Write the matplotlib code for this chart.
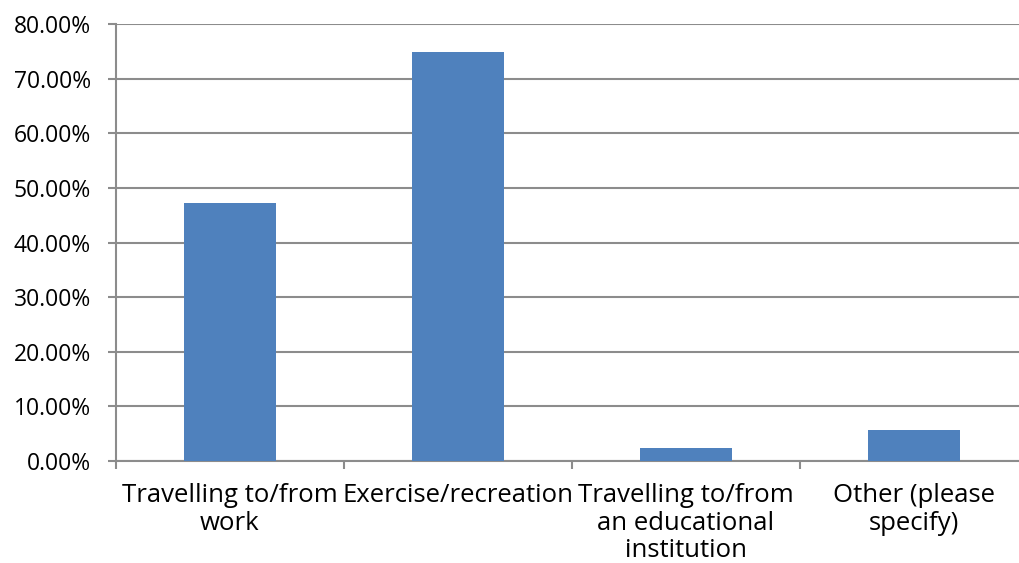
import matplotlib.pyplot as plt
from matplotlib.ticker import FuncFormatter, MultipleLocator
import numpy as np

categories = ["Travelling to/from\nwork", "Exercise/recreation",
              "Travelling to/from\nan educational\ninstitution", "Other (please\nspecify)"]
values = [47.2, 74.9, 2.4, 5.7]

plt.rcParams["font.family"] = ["Open Sans", "DejaVu Sans"]

fig = plt.figure(figsize=(10.19, 5.63), dpi=100)
W, H = 1019, 563
ax = fig.add_axes([116 / W, 1 - 461 / H, 912 / W, 437 / H])

x = np.arange(len(categories))
ax.bar(x, values, width=0.4, color="#4f81bd", zorder=3)

ax.set_xlim(-0.5, len(categories) - 0.5)
ax.set_ylim(0, 80)
ax.yaxis.set_major_locator(MultipleLocator(10))
ax.yaxis.set_major_formatter(FuncFormatter(lambda v, _: f"{v:.2f}%"))
ax.grid(axis="y", color="#8c8c8c", linewidth=1.5, zorder=0)

# category labels centred, ticks on the boundaries
ax.set_xticks(x)
ax.set_xticklabels(categories, fontsize=18.5, linespacing=1.12)
ax.tick_params(axis="x", length=0, pad=16)
ax.set_xticks(np.arange(len(categories) + 1) - 0.5, minor=True)
ax.tick_params(axis="x", which="minor", length=6, width=1.5, color="#8c8c8c")
ax.tick_params(axis="y", length=6, width=1.5, color="#8c8c8c", labelsize=16.5, pad=12)

for side in ["top", "right"]:
    ax.spines[side].set_visible(False)
for side in ["left", "bottom"]:
    ax.spines[side].set_color("#8c8c8c")
    ax.spines[side].set_linewidth(1.5)

fig.savefig("out.png", dpi=100)
